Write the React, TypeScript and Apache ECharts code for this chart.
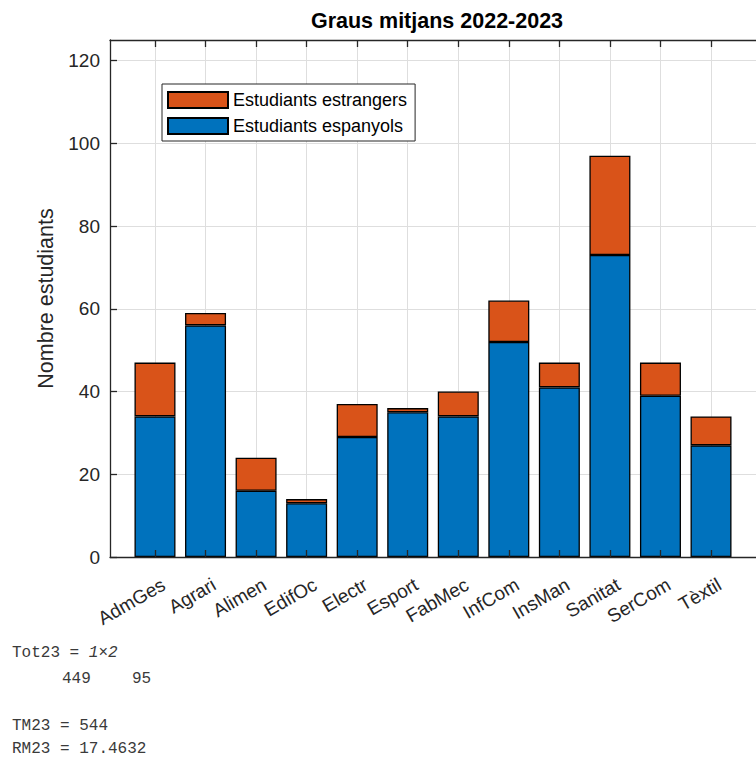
import React, { useEffect, useRef } from "react";
import * as echarts from "echarts";

const categories = ["AdmGes", "Agrari", "Alimen", "EdifOc", "Electr", "Esport", "FabMec", "InfCom", "InsMan", "Sanitat", "SerCom", "Tèxtil"];
const spanish = [34, 56, 16, 13, 29, 35, 34, 52, 41, 73, 39, 27];
const foreign = [13, 3, 8, 1, 8, 1, 6, 10, 6, 24, 8, 7];
const yTicks = [0, 20, 40, 60, 80, 100, 120];
const positions = categories.map((_, i) => i + 1);
const LABEL_SHIFT = 0.17;
const labelPositions = positions.map((p) => p + LABEL_SHIFT);

const BLUE = "#0072BD";
const ORANGE = "#D95319";
const AXIS = "#262626";
const GRID = "#dedede";
const FONT = "'Liberation Sans', Arial, Helvetica, sans-serif";
const MONO = "'Liberation Mono', 'DejaVu Sans Mono', monospace";

const sum = (a: number[]) => a.reduce((s, v) => s + v, 0);

export default function App() {
  const ref = useRef<HTMLDivElement>(null);

  useEffect(() => {
    if (!ref.current) return;
    const chart = echarts.init(ref.current, undefined, { renderer: "svg" });

    const totSp = sum(spanish);
    const totFo = sum(foreign);
    const tm = totSp + totFo;
    const rm = ((totFo / tm) * 100).toFixed(4);

    const gridLeft = 110;
    const gridTop = 40;
    const gridWidth = 654;
    const gridBottom = 206;

    const xCommon = {
      type: "value" as const,
      min: 0.11,
      max: 12.89,
      axisLine: { show: true, lineStyle: { color: AXIS, width: 1.3 } },
      axisTick: { show: true, inside: true, length: 7, customValues: positions, lineStyle: { color: AXIS, width: 1.3 } },
    };

    const consoleText = { fontFamily: MONO, fontSize: 16, fill: "#3a3a3a", verticalAlign: "middle" };

    chart.setOption({
      animation: false,
      backgroundColor: "#ffffff",
      title: {
        text: "Graus mitjans 2022-2023",
        left: gridLeft + gridWidth / 2,
        textAlign: "center",
        top: 10,
        padding: 0,
        textStyle: { fontFamily: FONT, fontSize: 21.5, fontWeight: "bold", color: "#000" },
      },
      grid: { left: gridLeft, top: gridTop, width: gridWidth, bottom: gridBottom, containLabel: false },
      legend: {
        data: ["Estudiants estrangers", "Estudiants espanyols"],
        orient: "vertical",
        left: 162,
        top: 84,
        itemWidth: 60,
        itemHeight: 16,
        itemGap: 8,
        padding: [7, 8, 6, 5],
        borderColor: AXIS,
        borderWidth: 1,
        backgroundColor: "#ffffff",
        icon: "rect",
        textStyle: { fontFamily: FONT, fontSize: 18, color: "#000" },
      },
      xAxis: [
        {
          ...xCommon,
          position: "bottom",
          z: 5,
          splitLine: { show: false },
          axisLabel: {
            show: true,
            customValues: labelPositions,
            rotate: 30,
            margin: 26,
            fontFamily: FONT,
            fontSize: 19,
            color: AXIS,
            formatter: (v: number) => categories[Math.round(v - LABEL_SHIFT) - 1] ?? "",
          },
        },
        {
          ...xCommon,
          position: "top",
          z: 0,
          splitLine: { show: true, lineStyle: { color: GRID, width: 1 } },
          axisLabel: { show: false },
        },
      ],
      yAxis: {
        type: "value",
        min: 0,
        max: 125,
        name: "Nombre estudiants",
        nameLocation: "middle",
        nameGap: 48,
        nameTextStyle: { fontFamily: FONT, fontSize: 21.5, color: AXIS },
        axisLine: { show: true, lineStyle: { color: AXIS, width: 1.3 } },
        axisTick: { show: true, inside: true, length: 7, customValues: yTicks, lineStyle: { color: AXIS, width: 1.3 } },
        axisLabel: { customValues: yTicks, margin: 10, fontFamily: FONT, fontSize: 19, color: AXIS },
        splitLine: { show: true, lineStyle: { color: GRID, width: 1 } },
      },
      series: [
        {
          name: "Estudiants espanyols",
          type: "bar",
          stack: "total",
          barWidth: 41,
          encode: { x: 1, y: 0 },
          data: positions.map((x, i) => [spanish[i], x]),
          itemStyle: { color: BLUE, borderColor: "#000", borderWidth: 1.3 },
        },
        {
          name: "Estudiants estrangers",
          type: "bar",
          stack: "total",
          barWidth: 41,
          encode: { x: 1, y: 0 },
          data: positions.map((x, i) => [foreign[i], x]),
          itemStyle: { color: ORANGE, borderColor: "#000", borderWidth: 1.3 },
        },
      ],
      graphic: [
        {
          type: "text",
          x: 12,
          y: 653,
          style: {
            ...consoleText,
            text: "{a|Tot23 = }{b|1×2}",
            rich: {
              a: { fontFamily: MONO, fontSize: 16, fill: "#3a3a3a" },
              b: { fontFamily: MONO, fontSize: 16, fill: "#3a3a3a", fontStyle: "italic" },
            },
          },
        },
        { type: "text", x: 62, y: 679, style: { ...consoleText, text: String(totSp) } },
        { type: "text", x: 132, y: 679, style: { ...consoleText, text: String(totFo) } },
        { type: "text", x: 12, y: 726, style: { ...consoleText, text: `TM23 = ${tm}` } },
        { type: "text", x: 12, y: 749, style: { ...consoleText, text: `RM23 = ${rm}` } },
      ],
    });

    return () => chart.dispose();
  }, []);

  return <div ref={ref} style={{ position: "absolute", left: 0, top: 0, width: 756, height: 763 }} />;
}
